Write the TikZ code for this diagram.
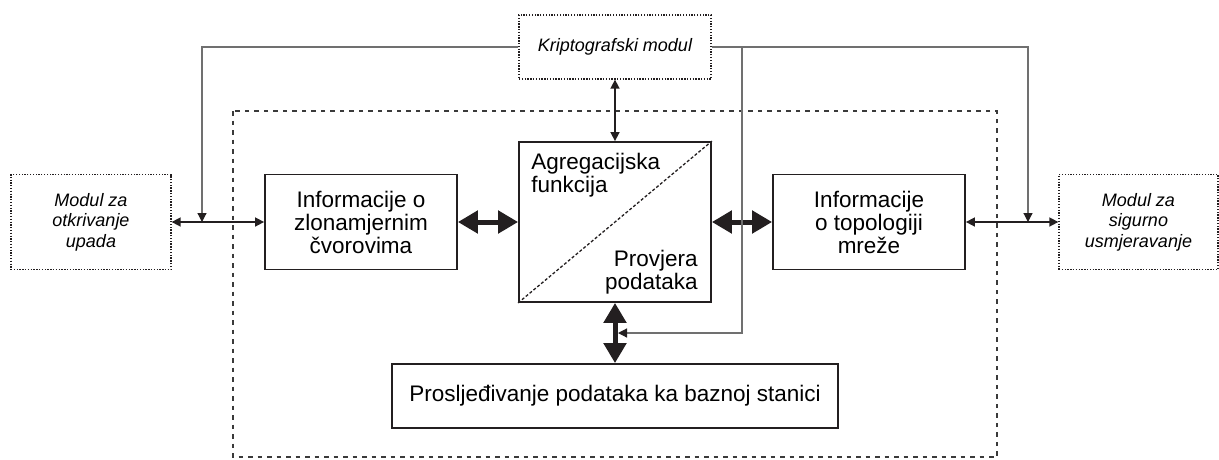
\documentclass[tikz,border=0pt]{standalone}
\usepackage{fontspec}
\setmainfont{Liberation Sans}
\usetikzlibrary{arrows.meta,positioning}
\definecolor{cInk}{HTML}{231F20}
\definecolor{cWire}{HTML}{707070}
\definecolor{cFrame}{HTML}{3A3A3A}
\tikzset{
  modbox/.style ={draw=cInk,line width=1.3pt,dash pattern=on 1.3pt off 1.5pt,align=center,
                  minimum width=160pt,minimum height=95pt,inner sep=2pt,
                  font=\fontsize{18}{20.5}\selectfont\itshape},
  infobox/.style={draw=cInk,line width=1.8pt,align=center,minimum width=192pt,minimum height=95pt,
                  inner sep=2pt,font=\fontsize{22.5}{23}\selectfont},
  txt/.style    ={inner sep=0pt,font=\fontsize{22.5}{23}\selectfont},
  bigarr/.style ={{Triangle[length=20pt,width=22pt]}-{Triangle[length=20pt,width=22pt]},line width=5pt,cInk},
  thinarr/.style={{Triangle[length=9pt,width=9pt]}-{Triangle[length=9pt,width=9pt]},line width=1.6pt,cInk},
  wire/.style   ={-{Triangle[length=9pt,width=9pt,color=cInk]},line width=1.2pt,cWire},
  frame/.style  ={line width=2pt,cFrame,dash pattern=on 4.5pt off 5pt},
}

\begin{document}
\begin{tikzpicture}[x=1pt,y=-1pt]
\useasboundingbox (0,0) rectangle (1219,459);
% outer frame
\draw[frame] (233,111) rectangle (997,457);
% boxes
\node[modbox,minimum width=192pt,minimum height=64pt] (krip) at (615,47) {Kriptografski modul};
\node[modbox] (modL) at (91,222) {Modul za\\otkrivanje\\upada};
\node[modbox,minimum width=159pt] (modR) at (1138.5,222) {Modul za\\sigurno\\usmjeravanje};
\node[infobox] (zlon) at (361,222) {Informacije o\\zlonamjernim\\čvorovima};
\node[infobox] (topo) at (869,222) {Informacije\\o topologiji\\mreže};
\node[infobox,minimum height=160pt] (agr) at (615,222) {};
\node[infobox,minimum width=446pt,minimum height=64pt] (fwd) at (615,396)
  {Prosljeđivanje podataka ka baznoj stanici};
\draw[line width=1.3pt,dash pattern=on 3pt off 2pt,cInk] (agr.south west) -- (agr.north east);
\node[txt,align=left,below right=12pt and 13pt of agr.north west] (agrA) {Agregacijska\\funkcija};
\node[txt,align=right,above left=9pt and 14pt of agr.south east] (agrB) {Provjera\\podataka};
% taps from the crypto module
\coordinate (tapL)  at (202,222);
\coordinate (tapR)  at (1028,222);
\coordinate (split) at (742,47);
\coordinate (tapV)  at (618,333);
% connectors
\draw[thinarr] (modL) -- (zlon);
\draw[thinarr] (topo) -- (modR);
\draw[thinarr] (krip) -- (agr);
\draw[bigarr] (zlon) -- (agr);
\draw[bigarr] (agr) -- (topo);
\draw[bigarr] (agr) -- (fwd);
\draw[wire] (krip.west) -| (tapL);
\draw[wire] (krip.east) -| (tapR);
\draw[wire] (split) |- (tapV);
\end{tikzpicture}
\end{document}
